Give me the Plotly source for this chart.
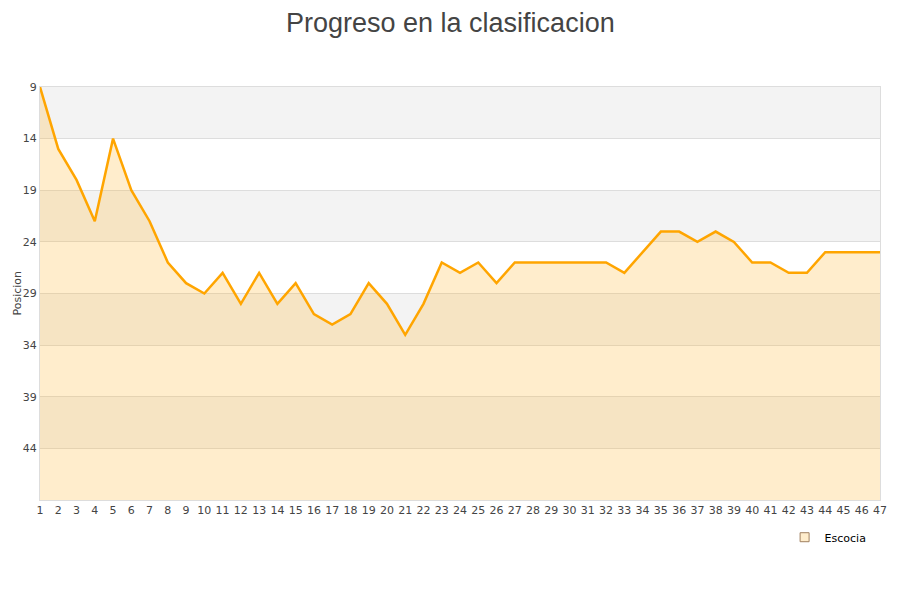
import plotly.graph_objects as go

jornadas = list(range(1, 48))
posiciones = [9, 15, 18, 22, 14, 19, 22, 26, 28, 29, 27, 30, 27, 30, 28, 31, 32, 31, 28, 30,
              33, 30, 26, 27, 26, 28, 26, 26, 26, 26, 26, 26, 27, 25, 23, 23, 24, 23, 24, 26,
              26, 27, 27, 25, 25, 25, 25]
y_ticks = [9, 14, 19, 24, 29, 34, 39, 44]
y_min, y_max = 9, 49
equipo = "Escocia"
titulo = "Progreso en la clasificacion"

fig = go.Figure()

# baseline for the area fill (bottom of reversed axis)
fig.add_trace(go.Scatter(x=jornadas, y=[y_max] * len(jornadas), mode="lines",
                         line=dict(width=0), showlegend=False, hoverinfo="skip"))
fig.add_trace(go.Scatter(x=jornadas, y=posiciones, mode="lines", fill="tonexty",
                         fillcolor="rgba(255,183,51,0.25)",
                         line=dict(color="#FFA500", width=2.5), showlegend=False, name=equipo))
fig.add_trace(go.Scatter(x=[None], y=[None], mode="markers", name=equipo,
                         marker=dict(symbol="square", size=9, color="#FFEDCC",
                                     line=dict(color="#A08060", width=1))))

shapes = []
for i, t in enumerate(y_ticks):
    if i % 2 == 0:
        shapes.append(dict(type="rect", xref="paper", yref="y", x0=0, x1=1, y0=t, y1=t + 5,
                           fillcolor="#F3F3F3", line=dict(width=0), layer="below"))
fig.update_layout(shapes=shapes)

fig.update_layout(
    width=900, height=600,
    paper_bgcolor="white", plot_bgcolor="white",
    margin=dict(l=32, r=28, t=78.5, b=108, autoexpand=False),
    font=dict(family="DejaVu Sans", size=11, color="#444"),
    xaxis=dict(range=[1, 47], tickmode="array", tickvals=jornadas, ticktext=[str(j) for j in jornadas],
               showgrid=False, zeroline=False, showline=True, linecolor="#DDDDDD", mirror=True,
               ticks="", automargin=False, tickfont=dict(size=11, color="#444")),
    yaxis=dict(range=[y_max, y_min], tickmode="array", tickvals=y_ticks,
               showgrid=True, gridcolor="#DDDDDD", zeroline=False, showline=True, linecolor="#DDDDDD",
               mirror=True, ticks="", automargin=False, tickfont=dict(size=11, color="#444")),
    annotations=[
        dict(text="Posicion", xref="paper", yref="paper", x=-0.0375, y=0.5,
             xanchor="left", yanchor="middle", textangle=-90, showarrow=False,
             font=dict(size=11, color="#444")),
        dict(text=titulo, xref="paper", yref="paper", x=0.4881, y=1.196,
             xanchor="center", yanchor="top", showarrow=False,
             font=dict(family="Liberation Sans, Arial", size=27, color="#444")),
    ],
    legend=dict(x=0.99, xanchor="right", y=-0.055, yanchor="top", bgcolor="rgba(0,0,0,0)",
                font=dict(size=11, color="#000")),
    showlegend=True,
)

fig.write_html("out.html")
